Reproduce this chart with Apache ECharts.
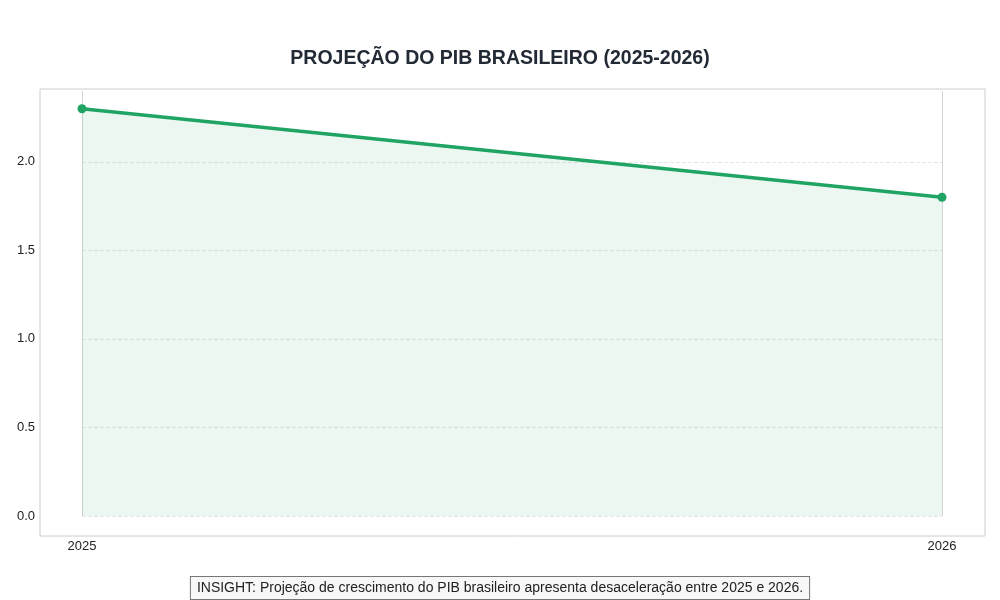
<!DOCTYPE html>
<html><head><meta charset="utf-8">
<script src="https://cdn.jsdelivr.net/npm/echarts@6/dist/echarts.min.js"></script>
<style>html,body{margin:0;background:#fff}#c{width:1000px;height:600px}</style>
</head><body><div id="c"></div>
<script>
var years = ['2025', '2026'];
var pib = [2.3, 1.8];
var chart = echarts.init(document.getElementById('c'));
chart.setOption({
  animation: false,
  title: { text: 'PROJEÇÃO DO PIB BRASILEIRO (2025-2026)', left: 'center', top: 44,
    textStyle: { fontFamily: 'Liberation Sans, Arial', fontSize: 19.5, fontWeight: 'bold', color: '#222a35' } },
  grid: [
    { left: 40, right: 15, top: 89, bottom: 64, show: true, borderColor: '#cccccc', borderWidth: 1 },
    { left: 82, right: 58, top: 91, bottom: 84 }
  ],
  xAxis: [
    { gridIndex: 0, type: 'value', show: false, min: 0, max: 1 },
    { gridIndex: 1, type: 'category', data: years, boundaryGap: false,
      axisLine: { show: false }, axisTick: { show: false },
      axisLabel: { margin: 24, color: '#222', fontSize: 13, fontFamily: 'Liberation Sans, Arial' },
      splitLine: { show: true, lineStyle: { color: '#d6d6d6', width: 1 } } }
  ],
  yAxis: [
    { gridIndex: 0, type: 'value', show: false, min: 0, max: 1 },
    { gridIndex: 1, type: 'value', min: 0, max: 2.4, interval: 0.5,
      axisLine: { show: false }, axisTick: { show: false },
      axisLabel: { margin: 47, color: '#222', fontSize: 13, fontFamily: 'Liberation Sans, Arial', showMaxLabel: false,
        formatter: function (v) { return v.toFixed(1); } },
      splitLine: { show: true, showMaxLine: false, lineStyle: { color: '#e6e6e6', type: 'dashed' } } }
  ],
  series: [{
    type: 'line', xAxisIndex: 1, yAxisIndex: 1, data: pib,
    symbol: 'circle', symbolSize: 9,
    lineStyle: { color: '#1fa463', width: 3.5 },
    itemStyle: { color: '#1fa463' },
    areaStyle: { color: 'rgba(31,164,99,0.12)' }
  }],
  graphic: [{
    type: 'text', left: 'center', top: 576,
    style: { text: 'INSIGHT: Projeção de crescimento do PIB brasileiro apresenta desaceleração entre 2025 e 2026.',
      fontFamily: 'Liberation Sans, Arial', fontSize: 14, fill: '#222',
      backgroundColor: '#f7f7f7', borderColor: '#777', borderWidth: 1, padding: [4, 6, 4, 6] }
  }]
});
</script></body></html>
